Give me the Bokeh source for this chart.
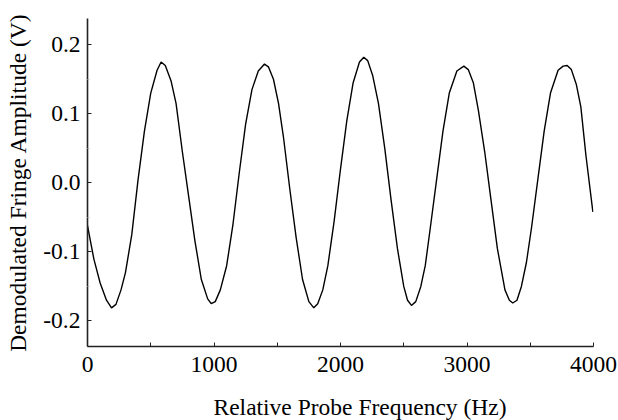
from bokeh.plotting import figure
from bokeh.models import Range1d, PrintfTickFormatter, FixedTicker, Title
from bokeh.embed import file_html
from bokeh.resources import INLINE

# Relative probe frequency (Hz) and demodulated fringe amplitude (V)
freq_hz = [0, 50, 100, 150, 190, 225, 265, 300, 350, 400, 450, 500, 550, 582, 615, 660, 700, 750,
           800, 850, 900, 950, 978, 1010, 1050, 1100, 1150, 1200, 1250, 1300, 1350, 1399, 1430, 1470,
           1510, 1550, 1600, 1650, 1700, 1750, 1789, 1820, 1860, 1900, 1950, 2000, 2050, 2100,
           2150, 2184, 2215, 2255, 2300, 2350, 2400, 2450, 2500, 2530, 2561, 2595, 2635, 2670,
           2710, 2760, 2810, 2860, 2920, 2975, 3010, 3050, 3090, 3140, 3190, 3240, 3300, 3335,
           3362, 3395, 3430, 3470, 3510, 3560, 3610, 3660, 3720, 3760, 3792, 3825, 3865, 3900,
           3940, 3995]
amplitude_v = [-0.062, -0.110, -0.145, -0.170, -0.181, -0.176, -0.155, -0.130, -0.075, 0.005,
               0.075, 0.130, 0.163, 0.175, 0.170, 0.148, 0.115, 0.045, -0.020, -0.085, -0.140,
               -0.168, -0.175, -0.172, -0.155, -0.120, -0.060, 0.015, 0.085, 0.135, 0.162,
               0.172, 0.168, 0.150, 0.115, 0.065, -0.010, -0.080, -0.140, -0.172, -0.181,
               -0.175, -0.155, -0.120, -0.055, 0.020, 0.090, 0.145, 0.175, 0.182, 0.177, 0.155,
               0.115, 0.050, -0.025, -0.095, -0.150, -0.170, -0.1775, -0.172, -0.150, -0.120,
               -0.065, 0.005, 0.075, 0.130, 0.162, 0.169, 0.164, 0.145, 0.105, 0.045, -0.025,
               -0.095, -0.155, -0.170, -0.174, -0.170, -0.150, -0.115, -0.065, 0.005, 0.075,
               0.130, 0.163, 0.169, 0.170, 0.164, 0.142, 0.110, 0.040, -0.042]

x_ticks = [0, 1000, 2000, 3000, 4000]
y_ticks = [-0.2, -0.1, 0.0, 0.1, 0.2]
x_title = "Relative Probe Frequency (Hz)"
y_title = "Demodulated Fringe Amplitude (V)"

FONT = "Liberation Serif"
FS = "23.5px"

p = figure(width=618, height=420, output_backend="svg", toolbar_location=None,
           x_range=Range1d(0, 4000), y_range=Range1d(-0.237, 0.238),
           min_border_left=87, min_border_right=25, min_border_top=18, min_border_bottom=74)
p.outline_line_color = None
p.grid.visible = False
p.background_fill_color = "white"
p.border_fill_color = "white"

p.line(freq_hz, amplitude_v, line_color="black", line_width=1.4)

for ax in (p.xaxis[0], p.yaxis[0]):
    ax.axis_line_color = "#222222"
    ax.axis_line_width = 1.6
    ax.major_tick_in = 4
    ax.major_tick_out = 0
    ax.major_tick_line_color = "#222222"
    ax.major_label_text_font = FONT
    ax.major_label_text_font_size = FS
    ax.major_label_text_color = "black"

xa = p.xaxis[0]
xa.ticker = FixedTicker(ticks=x_ticks, minor_ticks=[500, 1500, 2500, 3500])
xa.minor_tick_in = 4
xa.minor_tick_out = 0
xa.minor_tick_line_color = "#222222"
xa.major_label_standoff = 10

ya = p.yaxis[0]
ya.ticker = FixedTicker(ticks=y_ticks, minor_ticks=[-0.15, -0.05, 0.05, 0.15])
ya.formatter = PrintfTickFormatter(format="%.1f")
ya.minor_tick_in = 2
ya.minor_tick_out = 0
ya.minor_tick_line_color = "#bbbbbb"
ya.major_label_standoff = 7
ya.axis_label = y_title
ya.axis_label_text_font = FONT
ya.axis_label_text_font_size = FS
ya.axis_label_text_font_style = "normal"
ya.axis_label_text_color = "black"
ya.axis_label_standoff = 9

# blank spacer between the tick labels and the x title
p.add_layout(Title(text=" ", text_font_size="2px", standoff=12), "below")
p.add_layout(Title(text=x_title, text_font=FONT, text_font_size=FS, text_font_style="normal",
                   text_color="black", align="left", offset=126, standoff=2,
                   vertical_align="bottom"), "below")

open("out.html", "w").write(file_html(p, INLINE))
